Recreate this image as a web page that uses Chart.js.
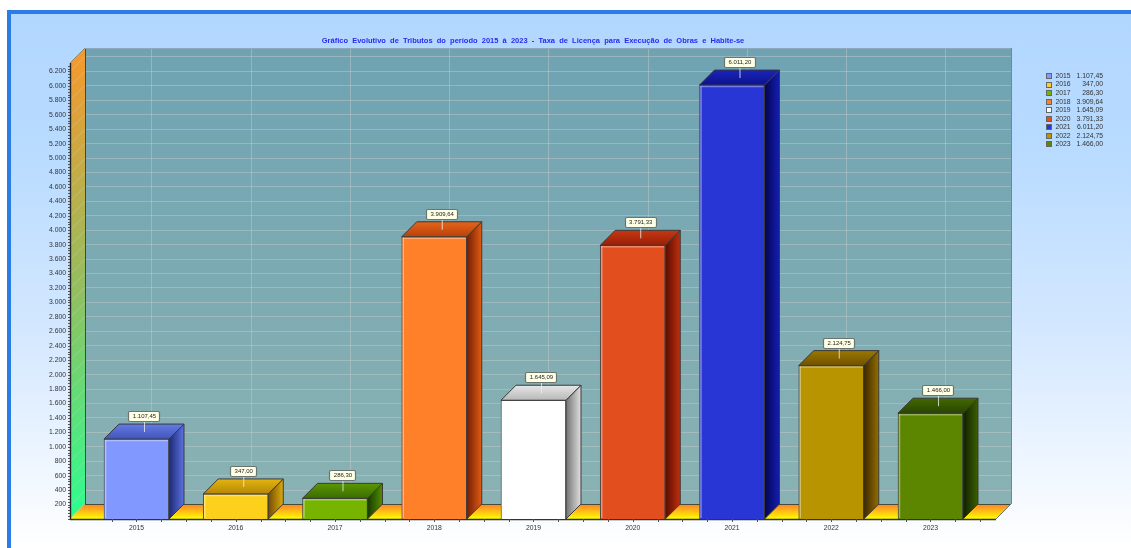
<!DOCTYPE html>
<html>
<head>
  <title>Gráfico Evolutivo de Tributos</title>
  <meta charset="utf-8">
  <script src="https://cdn.jsdelivr.net/npm/chart.js"></script>
  <style>
    html, body { margin: 0; padding: 0; background: #fff; overflow: hidden; }
    #frame {
      position: absolute; left: 7px; top: 10px; right: 0; bottom: 0;
      border-left: 4px solid #2a7de6; border-top: 4px solid #2a7de6;
      background: linear-gradient(#b2d7ff 0%, #b8dbff 25%, #d4e8ff 60%, #ffffff 100%);
    }
    #chart { position: absolute; left: 0; top: 0; filter: blur(0.35px); }
  </style>
</head>
<body>
  <div id="frame"></div>
  <canvas id="chart" width="1131" height="548"></canvas>

  <script>
    const chartTitle = 'Gráfico  Evolutivo  de  Tributos  do  período  2015  à  2023  -  Taxa  de  Licença  para  Execução  de  Obras  e  Habite-se';
    const years = [2015, 2016, 2017, 2018, 2019, 2020, 2021, 2022, 2023];
    const values = [1107.45, 347.00, 286.30, 3909.64, 1645.09, 3791.33, 6011.20, 2124.75, 1466.00];
    const barColors = ['#8098ff', '#fdd01c', '#76b400', '#ff8028', '#ffffff', '#e24e1e', '#2936d6', '#b89400', '#5c8500'];

    const DEPTH = 15;

    function money(v) {
      return v.toLocaleString('pt-BR', { minimumFractionDigits: 2, maximumFractionDigits: 2 });
    }

    // darken a hex colour, the power keeps the hue saturated
    function shade(hex, f, pow) {
      const n = parseInt(hex.slice(1), 16);
      const ch = c => Math.round(255 * f * Math.pow(c / 255, pow));
      return 'rgb(' + ch((n >> 16) & 255) + ',' + ch((n >> 8) & 255) + ',' + ch(n & 255) + ')';
    }

    function poly(ctx, pts, fill, stroke) {
      ctx.beginPath();
      pts.forEach((p, i) => i ? ctx.lineTo(p[0], p[1]) : ctx.moveTo(p[0], p[1]));
      ctx.closePath();
      ctx.fillStyle = fill;
      ctx.fill();
      if (stroke) { ctx.strokeStyle = stroke; ctx.lineWidth = 1; ctx.stroke(); }
    }

    function line(ctx, x1, y1, x2, y2, color, width) {
      ctx.beginPath();
      ctx.moveTo(x1, y1);
      ctx.lineTo(x2, y2);
      ctx.strokeStyle = color;
      ctx.lineWidth = width || 1;
      ctx.stroke();
    }

    // back wall, left wall, floor, grid lines and axis ticks
    const walls3d = {
      id: 'walls3d',
      beforeDatasetsDraw(chart) {
        const ctx = chart.ctx;
        const { left, right, top, bottom } = chart.chartArea;
        const xs = chart.scales.x, ys = chart.scales.y;
        ctx.save();

        let g = ctx.createLinearGradient(0, top - DEPTH, 0, bottom - DEPTH);
        g.addColorStop(0, '#6fa3b2');
        g.addColorStop(1, '#8ab2b3');
        poly(ctx, [[left + DEPTH, top - DEPTH], [right + DEPTH, top - DEPTH], [right + DEPTH, bottom - DEPTH], [left + DEPTH, bottom - DEPTH]], g);

        g = ctx.createLinearGradient(0, top, 0, bottom);
        g.addColorStop(0, '#f29a2e');
        g.addColorStop(0.5, '#92bf60');
        g.addColorStop(1, '#2cff90');
        poly(ctx, [[left, top], [left + DEPTH, top - DEPTH], [left + DEPTH, bottom - DEPTH], [left, bottom]], g);

        g = ctx.createLinearGradient(0, bottom - DEPTH, 0, bottom);
        g.addColorStop(0, '#ff7f2a');
        g.addColorStop(1, '#ffff00');
        poly(ctx, [[left, bottom], [left + DEPTH, bottom - DEPTH], [right + DEPTH, bottom - DEPTH], [right, bottom]], g);

        const gridColor = 'rgba(200,205,205,0.45)';
        ys.ticks.forEach(t => {
          const y = Math.round(ys.getPixelForValue(t.value)) + 0.5;
          if (t.value === 0) return;
          line(ctx, left + DEPTH, y - DEPTH, right + DEPTH, y - DEPTH, gridColor);
          line(ctx, left, y, left + DEPTH, y - DEPTH, gridColor);
        });
        years.forEach(v => {
          const x = Math.round(xs.getPixelForValue(v)) + DEPTH + 0.5;
          line(ctx, x, top - DEPTH, x, bottom - DEPTH, gridColor);
        });

        // wall edges
        line(ctx, left + DEPTH + 0.5, top - DEPTH, left + DEPTH + 0.5, bottom - DEPTH, '#3d4a40');
        line(ctx, left + DEPTH, bottom - DEPTH + 0.5, right + DEPTH, bottom - DEPTH + 0.5, '#4a4a3a');
        line(ctx, right + DEPTH + 0.5, top - DEPTH, right + DEPTH + 0.5, bottom - DEPTH, '#6a8a94');
        line(ctx, left + DEPTH, top - DEPTH + 0.5, right + DEPTH, top - DEPTH + 0.5, '#8fa8bc');
        line(ctx, right, bottom, right + DEPTH, bottom - DEPTH, '#6f7a70');
        line(ctx, left, top, left + DEPTH, top - DEPTH, '#8f8f80');
        line(ctx, left + 0.5, top, left + 0.5, bottom, '#222', 1.4);
        line(ctx, left, bottom + 0.5, right, bottom + 0.5, '#333', 1.4);

        // minor ticks along both axes
        for (let v = 0; v <= ys.max; v += 40) {
          const y = Math.round(ys.getPixelForValue(v)) + 0.5;
          line(ctx, left - 2, y, left, y, '#555');
        }
        for (let v = years[0] - 0.25; v <= years[years.length - 1] + 0.5; v += 0.25) {
          const x = Math.round(xs.getPixelForValue(v)) + 0.5;
          line(ctx, x, bottom, x, bottom + 3, '#555');
        }
        ctx.restore();
      }
    };

    // side and top faces of each bar, then the value flags
    const bars3d = {
      id: 'bars3d',
      afterDatasetsDraw(chart) {
        const ctx = chart.ctx;
        const meta = chart.getDatasetMeta(0);
        ctx.save();
        meta.data.forEach((bar, i) => {
          const c = barColors[i];
          const x0 = bar.x - bar.width / 2, x1 = bar.x + bar.width / 2;
          const yTop = bar.y, yBase = bar.base;

          let g = ctx.createLinearGradient(x1, 0, x1 + DEPTH, 0);
          g.addColorStop(0, shade(c, 0.45, 2));
          g.addColorStop(1, shade(c, 0.88, 1.3));
          poly(ctx, [[x1, yTop], [x1 + DEPTH, yTop - DEPTH], [x1 + DEPTH, yBase - DEPTH], [x1, yBase]], g, '#3a3a3a');

          g = ctx.createLinearGradient(0, yTop - DEPTH, 0, yTop);
          g.addColorStop(0, shade(c, 0.9, 1.2));
          g.addColorStop(1, shade(c, 0.72, 1.5));
          poly(ctx, [[x0, yTop], [x0 + DEPTH, yTop - DEPTH], [x1 + DEPTH, yTop - DEPTH], [x1, yTop]], g, '#3a3a3a');

          // light edge on the front face
          line(ctx, x0 + 1.5, yTop + 1, x0 + 1.5, yBase - 1, 'rgba(255,255,255,0.4)', 1.5);
          line(ctx, x0 + 1, yTop + 1.5, x1 - 1, yTop + 1.5, 'rgba(255,255,255,0.35)', 1.5);

          // value flag above the top face
          const fx = bar.x + DEPTH / 2;
          const text = money(values[i]);
          ctx.font = '6px "Liberation Sans", Arial, sans-serif';
          const w = Math.round(ctx.measureText(text).width) + 8;
          line(ctx, fx + 0.5, yTop - 18, fx + 0.5, yTop - 7, 'rgba(235,240,240,0.8)');
          ctx.beginPath();
          ctx.roundRect(Math.round(fx - w / 2) + 0.5, Math.round(yTop - 28) + 0.5, w, 10, 1.5);
          ctx.fillStyle = '#ffffe6';
          ctx.fill();
          ctx.strokeStyle = '#6a7572';
          ctx.lineWidth = 1.2;
          ctx.stroke();
          ctx.fillStyle = '#222';
          ctx.textAlign = 'center';
          ctx.textBaseline = 'middle';
          ctx.fillText(text, fx + 0.5, yTop - 22.7);
        });
        ctx.restore();
      }
    };

    // legend with right aligned values
    const sideLegend = {
      id: 'sideLegend',
      afterDraw(chart) {
        const ctx = chart.ctx;
        ctx.save();
        ctx.font = '6.8px "Liberation Sans", Arial, sans-serif';
        ctx.textBaseline = 'middle';
        years.forEach((yr, i) => {
          const y = 76 + i * 8.55;
          ctx.fillStyle = barColors[i];
          ctx.strokeStyle = '#666';
          ctx.lineWidth = 1;
          ctx.fillRect(1046.5, Math.round(y) - 2.5, 5, 5);
          ctx.strokeRect(1046.5, Math.round(y) - 2.5, 5, 5);
          ctx.fillStyle = '#333';
          ctx.textAlign = 'left';
          ctx.fillText(String(yr), 1055.5, y);
          ctx.textAlign = 'right';
          ctx.fillText(money(values[i]), 1103, y);
        });
        ctx.restore();
      }
    };

    new Chart(document.getElementById('chart').getContext('2d'), {
      type: 'bar',
      data: {
        datasets: [{
          data: years.map((yr, i) => ({ x: yr, y: values[i] })),
          backgroundColor: barColors,
          borderColor: '#4a4a4a',
          borderWidth: 1,
          barThickness: 65
        }]
      },
      options: {
        responsive: false,
        animation: false,
        layout: { padding: { left: 0, right: 135, top: 0, bottom: 0 } },
        plugins: {
          legend: { display: false },
          tooltip: { enabled: false },
          title: {
            display: true,
            text: chartTitle,
            fullSize: false,
            color: '#2a2af0',
            font: { family: '"Liberation Sans", Arial, sans-serif', size: 7.5, weight: 'bold', lineHeight: 1.2 },
            padding: { top: 36, bottom: 18 }
          }
        },
        scales: {
          x: {
            type: 'linear',
            offset: false,
            min: 2014.33,
            max: 2023.66,
            grid: { display: false, drawTicks: false },
            border: { display: false },
            afterFit(s) { s.height = 29; },
            ticks: {
              stepSize: 1,
              includeBounds: false,
              autoSkip: false,
              maxRotation: 0,
              padding: 5,
              color: '#333',
              font: { family: '"Liberation Sans", Arial, sans-serif', size: 6.8 },
              callback: v => String(v)
            }
          },
          y: {
            min: 0,
            max: 6317,
            grid: { display: false, drawTicks: false },
            border: { display: false },
            afterFit(s) { s.width = 70; },
            ticks: {
              stepSize: 200,
              includeBounds: false,
              autoSkip: false,
              padding: 4,
              color: '#333',
              font: { family: '"Liberation Sans", Arial, sans-serif', size: 6.8 },
              callback: v => v === 0 ? '' : v.toLocaleString('pt-BR')
            }
          }
        }
      },
      plugins: [walls3d, bars3d, sideLegend]
    });
  </script>
</body>
</html>
